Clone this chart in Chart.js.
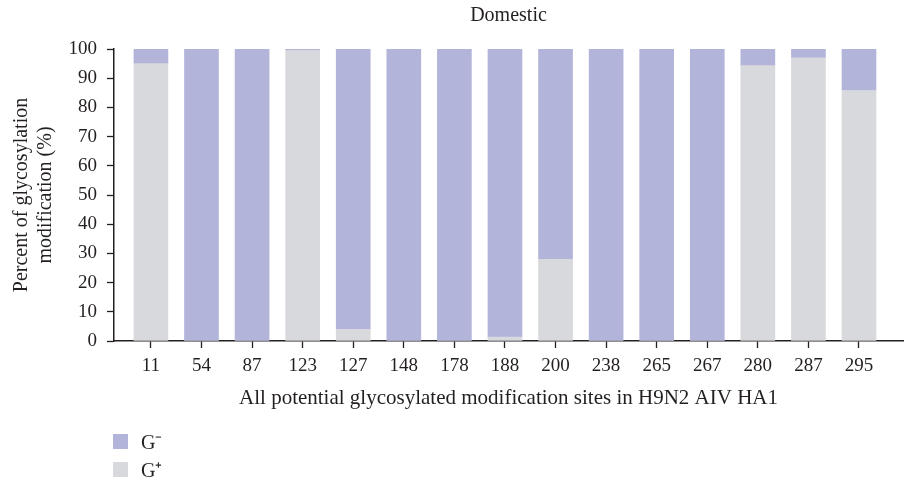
<!DOCTYPE html>
<html>
<head>
<meta charset="utf-8">
<script src="https://cdn.jsdelivr.net/npm/chart.js@4/dist/chart.umd.min.js"></script>
<style>
  html, body { margin: 0; padding: 0; background: #ffffff; }
  #wrap { position: relative; width: 905px; height: 493px; }
  #legend { position: absolute; left: 113px; top: 427px; font-family: "Liberation Serif", serif; font-size: 20px; color: #231f20; }
  .item { display: flex; align-items: center; height: 28px; }
  .sw { width: 15px; height: 15px; margin-right: 13px; }
</style>
</head>
<body>
<div id="wrap">
  <canvas id="c" width="905" height="493"></canvas>
  <div id="legend"></div>
</div>
<script>
const categories = ["11", "54", "87", "123", "127", "148", "178", "188", "200", "238", "265", "267", "280", "287", "295"];
const gPlus  = [95, 0, 0, 99.5, 4, 0, 0, 1.3, 28, 0, 0, 0, 94.3, 97, 85.8];
const gMinus = [5, 100, 100, 0.5, 96, 100, 100, 98.7, 72, 100, 100, 100, 5.7, 3, 14.2];
const yTicks = [0, 10, 20, 30, 40, 50, 60, 70, 80, 90, 100];
const chartTitle = "Domestic";
const xTitle = "All potential glycosylated modification sites in H9N2 AIV HA1";
const yTitle = ["Percent of glycosylation", "modification (%)"];
const seriesNames = ["G\u207A", "G\u207B"];
const colors = { plus: "#d8d9dc", minus: "#b2b4da" };

const ink = "#231f20";
const fontFam = "'Liberation Serif', 'Times New Roman', serif";

const datasets = [
  { label: seriesNames[0], data: gPlus.map((v, i) => ({ x: i, y: v })), backgroundColor: colors.plus },
  { label: seriesNames[1], data: gMinus.map((v, i) => ({ x: i, y: v })), backgroundColor: colors.minus }
];

const chart = new Chart(document.getElementById("c"), {
  type: "bar",
  data: { datasets },
  options: {
    responsive: false,
    animation: false,
    devicePixelRatio: 1,
    layout: { padding: { left: 0, right: 2, top: 0, bottom: 0 } },
    datasets: { bar: { barThickness: 34 } },
    plugins: {
      legend: { display: false },
      tooltip: { enabled: false },
      title: {
        display: true,
        text: chartTitle,
        fullSize: false,
        color: ink,
        font: { family: fontFam, size: 20, weight: "normal", lineHeight: 1.2 },
        padding: { top: 4, bottom: 21 }
      }
    },
    scales: {
      x: {
        type: "linear",
        stacked: true,
        offset: false,
        min: -0.73,
        max: 14.87,
        afterBuildTicks: (s) => { s.ticks = categories.map((c, i) => ({ value: i })); },
        afterFit: (s) => { s.height = 152; },
        ticks: {
          color: ink,
          font: { family: fontFam, size: 19 },
          padding: 7,
          maxRotation: 0,
          autoSkip: false,
          callback: (v) => categories[v]
        },
        grid: { offset: false, drawOnChartArea: false, drawTicks: true, tickLength: 7, tickColor: ink, tickWidth: 1.3 },
        border: { display: true, color: ink, width: 1.5 },
        title: {
          display: true,
          text: xTitle,
          color: ink,
          font: { family: fontFam, size: 21, lineHeight: 1.2 },
          padding: { top: 0, bottom: 82 }
        }
      },
      y: {
        stacked: true,
        min: 0,
        max: 100,
        afterBuildTicks: (s) => { s.ticks = yTicks.map(v => ({ value: v })); },
        afterFit: (s) => { s.width = 114; },
        ticks: {
          color: ink,
          font: { family: fontFam, size: 19 },
          padding: 10
        },
        grid: { drawOnChartArea: false, drawTicks: true, tickLength: 7, tickColor: ink, tickWidth: 1.3 },
        border: { display: true, color: ink, width: 1.5 },
        title: {
          display: true,
          text: yTitle,
          color: ink,
          font: { family: fontFam, size: 20, lineHeight: 1.2 },
          padding: { top: 10, bottom: 0 }
        }
      }
    }
  }
});

// HTML legend built from the datasets (G⁻ first, then G⁺)
const legend = document.getElementById("legend");
[1, 0].forEach(idx => {
  const ds = chart.data.datasets[idx];
  const row = document.createElement("div");
  row.className = "item";
  const sw = document.createElement("span");
  sw.className = "sw";
  sw.style.background = ds.backgroundColor;
  const tx = document.createElement("span");
  tx.textContent = ds.label;
  row.appendChild(sw);
  row.appendChild(tx);
  legend.appendChild(row);
});
</script>
</body>
</html>
